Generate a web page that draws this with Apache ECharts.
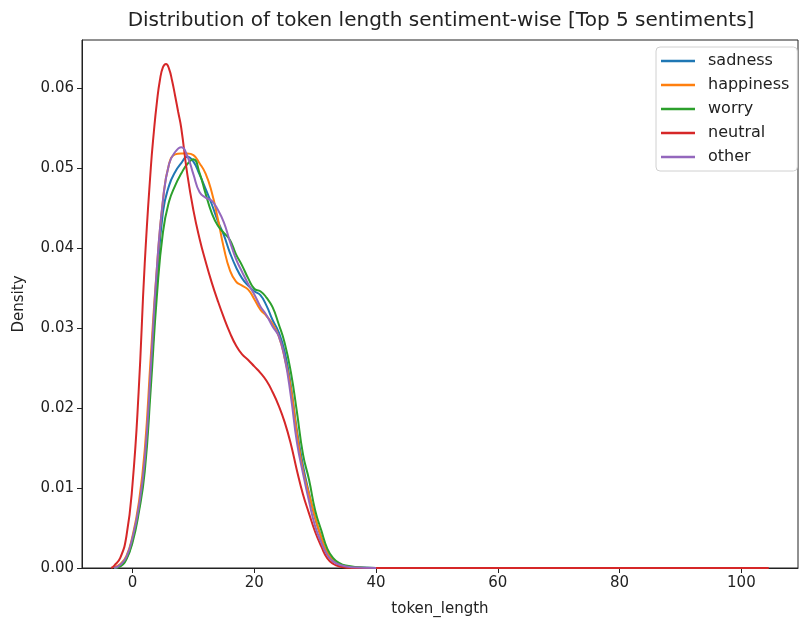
<!DOCTYPE html>
<html>
<head>
<meta charset="utf-8">
<script src="https://cdn.jsdelivr.net/npm/echarts@6/dist/echarts.min.js"></script>
<style>
  html, body { margin: 0; padding: 0; background: #fff; }
  #chart { width: 799px; height: 622px; }
</style>
</head>
<body>
<div id="chart"></div>
<script>
// KDE curves: [token_length, density]
var sentiments = ['sadness', 'happiness', 'worry', 'neutral', 'other'];
var colors = ['#1f77b4', '#ff7f0e', '#2ca02c', '#d62728', '#9467bd'];
var xTicks = [0, 20, 40, 60, 80, 100];
var yTicks = [0, 0.01, 0.02, 0.03, 0.04, 0.05, 0.06];

var sadness = [
  [-3, 0], [-2, 0.0003], [-1, 0.0012], [0, 0.0035], [1, 0.0072], [2, 0.013], [3, 0.024],
  [4, 0.0355], [5, 0.0445], [6, 0.0478], [7, 0.0495], [8, 0.0506], [9, 0.0514], [10, 0.0508],
  [11, 0.0492], [12, 0.0474], [13, 0.0455], [14, 0.0434], [15, 0.0416], [16, 0.0394],
  [17, 0.0376], [18, 0.0362], [19, 0.0353], [20, 0.0346], [21, 0.0341], [22, 0.0328],
  [23, 0.031], [24, 0.0295], [25, 0.027], [26, 0.0228], [27, 0.0172], [28, 0.0128],
  [29, 0.0093], [30, 0.0062], [31, 0.0038], [32, 0.0019], [33, 0.0009], [34, 0.0004],
  [35, 0.0002], [37, 0.00005], [40, 0]
];
var happiness = [
  [-3, 0.0001], [-2, 0.0005], [-1, 0.0015], [0, 0.004], [1, 0.008], [2, 0.0147], [3, 0.0265],
  [4, 0.0375], [5, 0.046], [6, 0.0505], [7, 0.0517], [8, 0.0518], [9, 0.0518], [10, 0.0516],
  [11, 0.0506], [12, 0.0493], [13, 0.047], [14, 0.0437], [15, 0.040], [16, 0.0372],
  [17, 0.0358], [18, 0.0353], [19, 0.0348], [20, 0.0336], [21, 0.0323], [22, 0.0315],
  [23, 0.0305], [24, 0.029], [25, 0.0262], [26, 0.0225], [27, 0.0168], [28, 0.0122],
  [29, 0.0092], [30, 0.0063], [31, 0.0038], [32, 0.0019], [33, 0.0009], [34, 0.0004],
  [35, 0.0002], [36, 0.0001], [38, 0], [40, 0]
];
var worry = [
  [-3, 0], [-2, 0.0002], [-1, 0.0011], [0, 0.0032], [1, 0.0068], [2, 0.012], [3, 0.0225],
  [4, 0.034], [5, 0.042], [6, 0.0458], [7, 0.0478], [8, 0.0493], [9, 0.0505], [10, 0.0511],
  [11, 0.0494], [12, 0.0468], [13, 0.0444], [14, 0.0428], [15, 0.0419], [16, 0.041],
  [17, 0.0392], [18, 0.0378], [19, 0.0362], [20, 0.0349], [21, 0.0346], [22, 0.0338],
  [23, 0.0326], [24, 0.0305], [25, 0.0281], [26, 0.0245], [27, 0.0195], [28, 0.0142],
  [29, 0.011], [30, 0.0072], [31, 0.0047], [32, 0.0024], [33, 0.0012], [34, 0.0006],
  [35, 0.0003], [37, 0.0001], [40, 0]
];
var neutral = [
  [-3.5, 0], [-3, 0.0003], [-2, 0.0013], [-1, 0.004], [0, 0.0105], [1, 0.022], [2, 0.038],
  [3, 0.050], [3.5, 0.0545], [4, 0.0582], [4.5, 0.061], [5, 0.0626], [5.5, 0.063],
  [6, 0.0624], [6.5, 0.0609], [7, 0.059], [7.5, 0.057], [8, 0.055],
  [9, 0.0492], [10, 0.0447], [11, 0.0412], [12, 0.0383], [13, 0.0357], [14, 0.0334],
  [15, 0.0313], [16, 0.0294], [17, 0.0278], [18, 0.0267], [19, 0.026], [20, 0.0252],
  [21, 0.0244], [22, 0.0234], [23, 0.022], [24, 0.0203], [25, 0.0182], [26, 0.0155],
  [27, 0.0122], [28, 0.0092], [29, 0.0068], [30, 0.0045], [31, 0.0027], [32, 0.0012],
  [33, 0.0005], [34, 0.0002], [36, 0], [40, 0], [104.5, 0]
];
var other = [
  [-3, 0], [-2, 0.0004], [-1, 0.0014], [0, 0.0038], [1, 0.0075], [2, 0.0135], [3, 0.025],
  [4, 0.0375], [5, 0.046], [6, 0.0505], [7, 0.052], [8, 0.0526], [9, 0.0515], [10, 0.0492],
  [11, 0.047], [12, 0.0463], [13, 0.0459], [14, 0.0448], [15, 0.0432], [16, 0.0408],
  [17, 0.0386], [18, 0.037], [19, 0.0355], [20, 0.0342], [21, 0.0327], [22, 0.0316],
  [23, 0.0302], [24, 0.029], [25, 0.0262], [26, 0.0215], [27, 0.0157], [28, 0.0118],
  [29, 0.0083], [30, 0.0052], [31, 0.0032], [32, 0.0016], [33, 0.0008], [34, 0.0004],
  [36, 0.0001], [40, 0]
];
var curves = [sadness, happiness, worry, neutral, other];

var font = 'DejaVu Sans';
var chart = echarts.init(document.getElementById('chart'));

var series = sentiments.map(function (name, i) {
  return {
    name: name,
    type: 'line',
    data: curves[i],
    smooth: 0.5,
    showSymbol: false,
    symbol: 'none',
    lineStyle: { color: colors[i], width: 2 },
    itemStyle: { color: colors[i] }
  };
});

chart.setOption({
  animation: false,
  title: {
    text: 'Distribution of token length sentiment-wise [Top 5 sentiments]',
    left: 436,
    top: 6,
    textAlign: 'center',
    textStyle: { fontFamily: font, fontSize: 20, fontWeight: 'normal', color: '#222' }
  },
  legend: {
    data: sentiments,
    orient: 'vertical',
    left: 656,
    top: 47,
    icon: 'rect',
    itemWidth: 34,
    itemHeight: 2.5,
    itemGap: 8,
    padding: [6, 8, 6, 5],
    borderColor: '#d0d0d0',
    borderWidth: 1,
    borderRadius: 4,
    textStyle: { fontFamily: font, fontSize: 16, color: '#222', lineHeight: 16, padding: [0, 0, 0, 8] }
  },
  grid: {
    left: 82,
    right: 1,
    top: 40,
    bottom: 54,
    show: true,
    borderColor: '#222',
    borderWidth: 1
  },
  xAxis: {
    type: 'value',
    min: -8.3,
    max: 109.3,
    name: 'token_length',
    nameLocation: 'middle',
    nameGap: 34,
    nameTextStyle: { fontFamily: font, fontSize: 15, color: '#222' },
    axisLine: { show: true, onZero: false, lineStyle: { color: '#222', width: 1 } },
    axisTick: { show: true, customValues: xTicks, length: 5, lineStyle: { color: '#222' } },
    axisLabel: { customValues: xTicks, fontFamily: font, fontSize: 15, color: '#222', margin: 8 },
    splitLine: { show: false }
  },
  yAxis: {
    type: 'value',
    min: 0,
    max: 0.066,
    name: 'Density',
    nameLocation: 'middle',
    nameGap: 55,
    nameTextStyle: { fontFamily: font, fontSize: 15, color: '#222' },
    axisLine: { show: true, onZero: false, lineStyle: { color: '#222', width: 1 } },
    axisTick: { show: true, customValues: yTicks, length: 5, lineStyle: { color: '#222' } },
    axisLabel: {
      customValues: yTicks,
      fontFamily: font, fontSize: 15, color: '#222', margin: 8,
      formatter: function (v) { return v.toFixed(2); }
    },
    splitLine: { show: false }
  },
  series: series
});
</script>
</body>
</html>
